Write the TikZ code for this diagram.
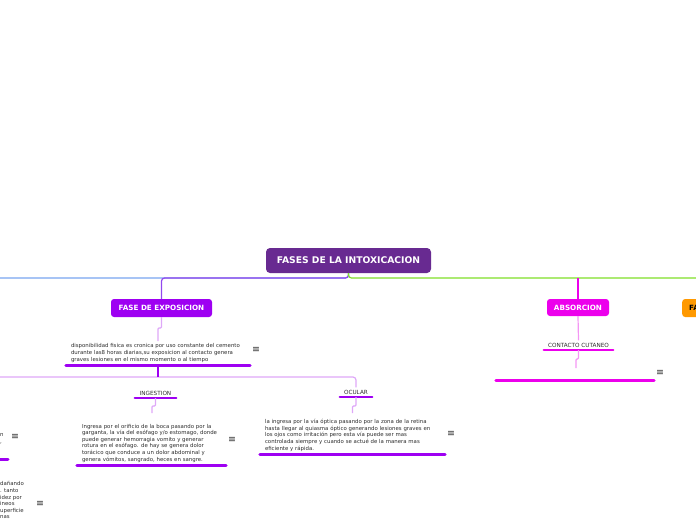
\documentclass[tikz,border=0pt]{standalone}
\usepackage{fontspec}
\setmainfont{DejaVu Sans}
\newfontfamily\dvs{DejaVu Sans}
\definecolor{rootc}{RGB}{104,42,145}
\definecolor{violetc}{RGB}{158,0,242}
\definecolor{linkc}{RGB}{146,72,238}
\definecolor{lightv}{RGB}{222,168,248}
\definecolor{bluec}{RGB}{120,165,240}
\definecolor{greenc}{RGB}{128,222,40}
\definecolor{magc}{RGB}{236,0,236}
\definecolor{lightm}{RGB}{244,150,244}
\definecolor{orangec}{RGB}{255,153,0}
\definecolor{txtc}{RGB}{45,45,45}
\tikzset{
  rootbox/.style={rounded corners=4pt, fill=rootc, text=white, font=\fontsize{9.2}{10}\selectfont\bfseries, minimum width=165, minimum height=25, inner sep=0},
  topbox/.style={rounded corners=3pt, text=white, font=\fontsize{7.2}{8}\selectfont\bfseries, minimum height=18, inner sep=0},
  para/.style={align=left, font=\fontsize{5.4}{6.6}\selectfont, text=txtc, inner xsep=5, inner ysep=2.5},
  lbl/.style={font=\fontsize{5.7}{6.5}\selectfont, text=txtc, inner xsep=0, inner ysep=2.5},
  menu/.style={font=\dvs\fontsize{9.5}{9.5}\selectfont, text=txtc, inner sep=0},
  ulv/.style={draw=violetc, line width=3, line cap=round},
  ulm/.style={draw=magc, line width=3, line cap=round},
  conn/.style={line width=1.2, rounded corners=3pt},
  jog/.style={line width=1.2, rounded corners=1pt},
}
\begin{document}
\begin{tikzpicture}[x=1pt,y=-1pt]
\clip (0,0) rectangle (696,520);
\useasboundingbox (0,0) rectangle (696,520);

% off-screen ends
\coordinate (offL) at (-60,278);
\coordinate (offR) at (760,278);
\coordinate (busL) at (-60,377);

% main nodes
\node[rootbox] (root) at (348.5,260.5) {FASES DE LA INTOXICACION};
\node[topbox, fill=violetc, minimum width=101] (fexp) at (161.5,308) {FASE DE EXPOSICION};
\node[topbox, fill=magc, minimum width=62, minimum height=17] (abs) at (578,307.5) {ABSORCION};
\node[topbox, fill=orangec, text=black, text width=66, align=left, anchor=west, inner xsep=7] (fasec) at (682,308) {FASE};

% exposure text
\node[para, text width=174, anchor=south] (texp) at (158,365) {disponibilidad fisica es cronica por uso constante del cemento\\durante las8 horas diarias,su exposicion al contacto genera\\graves lesiones en el mismo momento o al tiempo};
\node[menu] (mexp) at (256,350) {≡};

% ingestion / ocular
\node[lbl, minimum width=41, anchor=south] (ing) at (155.5,398) {INGESTION};
\node[lbl, minimum width=32, anchor=south] (ocu) at (356,397) {OCULAR};
\node[para, text width=139, anchor=south] (ting) at (151.5,465) {Ingresa por el orificio de la boca pasando por la\\garganta, la vía del esófago y/o estomago, donde\\puede generar hemorragia vomito y generar\\rotura en el esófago. de hay se genera dolor\\torácico que conduce a un dolor abdominal y\\genera vómitos, sangrado, heces en sangre.};
\node[menu] (ming) at (232,440) {≡};
\node[para, text width=175, anchor=south] (tocu) at (352.5,454) {la ingresa por la vía óptica pasando por la zona de la retina\\hasta llegar al quiasma óptico generando lesiones graves en\\los ojos como irritación pero esta vía puede ser mas\\controlada siempre y cuando se actué de la manera mas\\eficiente y rápida.};
\node[menu] (mocu) at (451,434) {≡};

% absorcion
\node[lbl, minimum width=69, anchor=south] (cc) at (578.5,350) {CONTACTO CUTANEO};
\node[para, minimum width=158, minimum height=10, anchor=south] (tcc) at (575,380) {};
\node[menu] (mtcc) at (660,373) {≡};

% left partial
\node[para, anchor=north west, inner xsep=0] (tl1) at (0,431) {n\\,};
\node[menu] (ml1) at (15,437) {≡};
\coordinate (ul1a) at (-20,459);
\coordinate (ul1b) at (8,459);
\node[para, anchor=north west, inner xsep=0] (tl2) at (0,479) {dañando\\. tanto\\idez por\\ineos\\uperficie\\nas};
\node[menu] (ml2) at (40,504) {≡};

% underlines
\draw[ulv] (texp.south west) -- (texp.south east);
\draw[ulv, line width=2.5] (ing.south west) -- (ing.south east);
\draw[ulv, line width=2.5] (ocu.south west) -- (ocu.south east);
\draw[ulv] (ting.south west) -- (ting.south east);
\draw[ulv] (tocu.south west) -- (tocu.south east);
\draw[ulv] (ul1a) -- (ul1b);
\draw[ulm, line width=2.5] (cc.south west) -- (cc.south east);
\draw[ulm] (tcc.south west) -- (tcc.south east);

% connectors from root
\draw[conn, bluec] (root.south) -- (348.5,278) -- (offL);
\draw[conn, linkc] (root.south) -- (348.5,278) -- (161.5,278) -- (fexp.north);
\draw[conn, greenc] (root.south) -- (348.5,278) -- (offR);
\draw[conn, magc] (578,278) -- (abs.north);

% exposure subtree
\draw[jog, lightv] (fexp.south) -- (161.5,328) -- (158,328) -- (texp.north);
\coordinate (bus) at (158,377);
\draw[conn, lightv] (busL) -- (bus) -| (ocu.north);
\draw[conn, violetc, line width=1.5] (texp.south) -- (bus);
\draw[jog, lightv] (ing.south) -- (155.5,406) -- (152,406) -- (152,413);
\draw[jog, lightv] (ocu.south) -- (356,406) -- (352.5,406) -- (352.5,413);

% absorcion subtree
\draw[conn, lightm] (abs.south) -- (cc.north);
\draw[jog, lightm] (cc.south) -- (578.5,359) -- (576,359) -- (576,368);
\end{tikzpicture}
\end{document}
